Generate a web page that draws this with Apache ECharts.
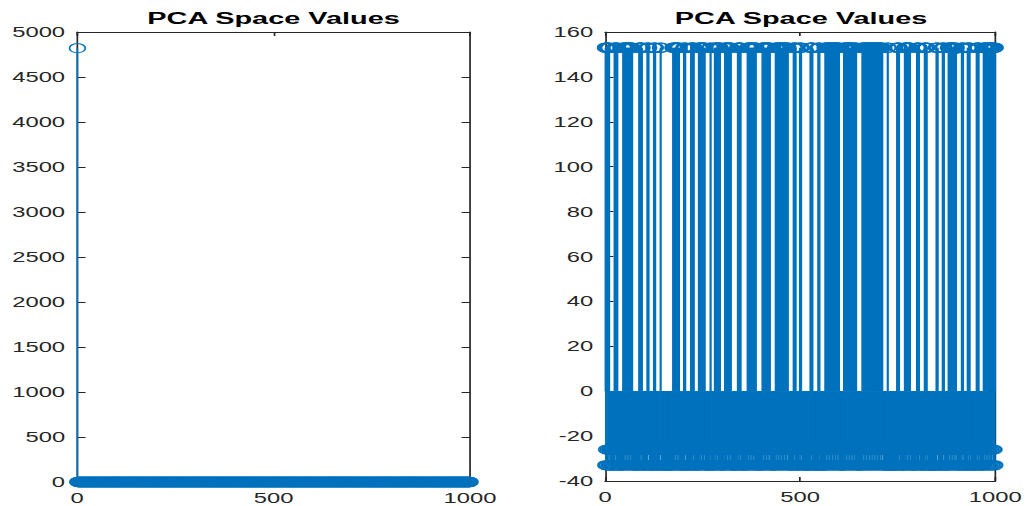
<!DOCTYPE html>
<html>
<head>
<meta charset="utf-8">
<title>PCA Space Values</title>
<script src="https://cdn.jsdelivr.net/npm/echarts@6/dist/echarts.min.js"></script>
<style>
  html, body { margin: 0; padding: 0; background: #ffffff; width: 1026px; height: 506px; overflow: hidden; }
  /* the figure is laid out narrow and widened horizontally, like the exported plot */
  #chart { width: 604px; height: 506px; transform: scaleX(1.7); transform-origin: 0 0; }
</style>
</head>
<body>
<div id="chart"></div>
<script>
// ---- data ----
const panelTitles = ['PCA Space Values', 'PCA Space Values'];
const xTicks = [0, 500, 1000];
const leftYTicks = [0, 5000, 500];      // min, max, step
const rightYTicks = [-40, 160, 20];     // min, max, step

// left panel: [value, how many consecutive samples]
const leftRuns = [[4820, 1], [0, 999]];

// right panel: one letter per sample, levels below
const rightLevels = { H: 153, a: -26, b: -33 };
const rightCodes = [
  'HbHaHbHaHbHa', 'abababababa', 'HbHaHbHaHb', 'abababababab',
  'HbHaHbHaHbHaHbHaHbHaHbHaHb', 'abababababababa', 'HbHaHbHaHb', 'abababababa',
  'HbHaH', 'abababababab', 'HbHaHb', 'abababababa', 'HH',
  'ababababababababababababababab', 'HbHaHbHaHbHaHbHaHb', 'ababababab', 'HbHaH',
  'ababababababa', 'HbHaHbHaHb', 'ababababab', 'HbHaHbHaHbHaHbHaHb', 'abababababab',
  'HH', 'ababababa', 'HbHaHbHaHbHaHbH', 'abababababa', 'HbHaHbHaHbHaHbHaHb',
  'abababababababa', 'HbHaHbHaHb', 'abababababababa', 'HbHaHbHaHbHaHbHaHbHaHbH',
  'abababababababa', 'HbHaHbHaHbHaHbHaHbHaH', 'ababababababa',
  'HbHaHbHaHbHaHbHaHbHaHbHaHbHaHbHaH', 'ababababababa', 'HbHaHbH', 'ababababa',
  'HbHaH', 'ababababababababababab', 'HbHaHbHa', 'abababababab', 'HbHaHb', 'abababababab',
  'HbHaHbHaHbHaHbHaHbHaHbHaHbHaHbHaHbHaHb', 'ababababab',
  'HbHaHbHaHbHaHbHaHbHaHbHaHbHaHbHaHb', 'ababababababa',
  'HbHaHbHaHbHaHbHaHbHaHbHaHbHaHbHaHbHaHbHaHbHaHbHaHbHaH', 'abababababab',
  'HH', 'ababababababababababab', 'HbHaHbHa', 'abababababab', 'HbHaHbHaHbHaHbHa',
  'abababababababa', 'HbHaHbHa', 'abababababab', 'HbHaHbHa', 'ababababababababababab',
  'HbHaH', 'abababababa', 'HbHaH', 'ababababab', 'HbHaHbHaHbHaHbHaHbHaH', 'ababababababa',
  'HbHaH', 'ababababab', 'HbHaHbHa', 'abababababababa', 'HbHaHbHa', 'ababababab',
  'HbHaHbHaHbHaHbHaHbHaHbHaHbHaHbH'
].join('');

// ---- build [x, y] pairs, samples numbered from 1 ----
function fromRuns(runs) {
  const out = [];
  runs.forEach(([v, n]) => { for (let k = 0; k < n; k++) out.push([out.length + 1, v]); });
  return out;
}
function fromCodes(codes, levels) {
  return codes.split('').map((c, i) => [i + 1, levels[c]]);
}
const leftData = fromRuns(leftRuns);
const rightData = fromCodes(rightCodes, rightLevels);

// ---- styling ----
const STEM = '#0072BD';
const AXIS = '#262626';
const FONT = 'Liberation Sans, Arial, Helvetica, sans-serif';

// stem: line from the baseline to the value, open circle at the value
function stemItem(params, api) {
  const x = api.value(0), y = api.value(1);
  const p0 = api.coord([x, 0]);
  const p1 = api.coord([x, y]);
  return {
    type: 'group',
    children: [
      { type: 'line', shape: { x1: p0[0], y1: p0[1], x2: p1[0], y2: p1[1] },
        style: { stroke: STEM, lineWidth: 1 }, silent: true },
      { type: 'circle', shape: { cx: p1[0], cy: p1[1], r: 4.6 },
        style: { fill: 'none', stroke: STEM, lineWidth: 1 }, silent: true }
    ]
  };
}

const plainNumber = v => String(v);

function xAxisPair(gi) {
  const base = {
    type: 'value', gridIndex: gi, min: xTicks[0], max: xTicks[2], interval: xTicks[1] - xTicks[0],
    splitLine: { show: false },
    axisLine: { show: true, onZero: false, lineStyle: { color: AXIS, width: 1 } },
    axisTick: { show: true, inside: true, length: 4, lineStyle: { color: AXIS, width: 1 } }
  };
  return [
    Object.assign({}, base, { position: 'bottom',
      axisLabel: { show: true, margin: 9, color: AXIS, fontSize: 14, fontFamily: FONT, formatter: plainNumber } }),
    Object.assign({}, base, { position: 'top', axisLabel: { show: false } })
  ];
}
function yAxisPair(gi, t) {
  const base = {
    type: 'value', gridIndex: gi, min: t[0], max: t[1], interval: t[2],
    splitLine: { show: false },
    axisLine: { show: true, onZero: false, lineStyle: { color: AXIS, width: 1 } },
    axisTick: { show: true, inside: true, length: 5, lineStyle: { color: AXIS, width: 1 } }
  };
  return [
    Object.assign({}, base, { position: 'left',
      axisLabel: { show: true, margin: 7, color: AXIS, fontSize: 14, fontFamily: FONT, formatter: plainNumber } }),
    Object.assign({}, base, { position: 'right', axisLabel: { show: false } })
  ];
}

const grids = [
  { left: 45.3, top: 32, width: 231.2, height: 450 },
  { left: 355.9, top: 32, width: 230.6, height: 449 }
];

const chart = echarts.init(document.getElementById('chart'), null, { renderer: 'svg' });
chart.setOption({
  animation: false,
  backgroundColor: '#ffffff',
  title: panelTitles.map((t, i) => ({
    text: t,
    left: grids[i].left + grids[i].width / 2,
    top: 10,
    textAlign: 'center',
    padding: 0,
    textStyle: { fontFamily: FONT, fontSize: 17, fontWeight: 'bold', color: '#000000' }
  })),
  grid: grids,
  xAxis: [...xAxisPair(0), ...xAxisPair(1)],
  yAxis: [...yAxisPair(0, leftYTicks), ...yAxisPair(1, rightYTicks)],
  series: [
    { type: 'custom', xAxisIndex: 0, yAxisIndex: 0, data: leftData,
      encode: { x: 0, y: 1 }, renderItem: stemItem, clip: false, silent: true },
    { type: 'custom', xAxisIndex: 2, yAxisIndex: 2, data: rightData,
      encode: { x: 0, y: 1 }, renderItem: stemItem, clip: false, silent: true }
  ]
});
</script>
</body>
</html>
